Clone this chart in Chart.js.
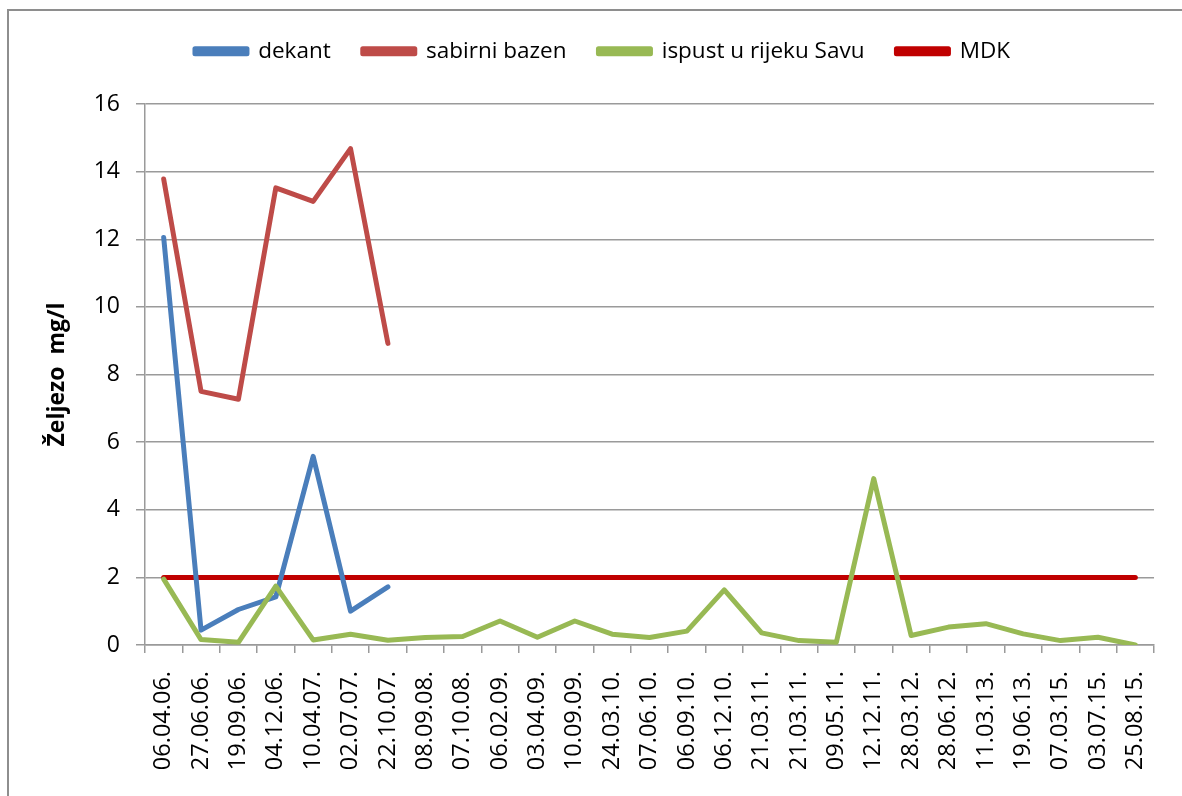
<!DOCTYPE html>
<html>
<head>
<meta charset="utf-8">
<script src="https://cdn.jsdelivr.net/npm/chart.js@4.4.1/dist/chart.umd.min.js"></script>
<style>
  html, body { margin: 0; padding: 0; background: #fff; overflow: hidden; }
  #wrap { position: relative; width: 1182px; height: 796px; }
  #frame {
    position: absolute; left: 7px; top: 9px; width: 1200px; height: 820px;
    border: 2px solid #8e8e8e; box-sizing: border-box;
  }
  canvas { position: absolute; left: 0; top: 0; }
</style>
</head>
<body>
<div id="wrap">
  <div id="frame"></div>
  <canvas id="mainChart" width="1182" height="796"></canvas>
</div>
<script>
// 데이터
const dates = [
  '06.04.06.', '27.06.06.', '19.09.06.', '04.12.06.', '10.04.07.', '02.07.07.',
  '22.10.07.', '08.09.08.', '07.10.08.', '06.02.09.', '03.04.09.', '10.09.09.',
  '24.03.10.', '07.06.10.', '06.09.10.', '06.12.10.', '21.03.11.', '21.03.11.',
  '09.05.11.', '12.12.11.', '28.03.12.', '28.06.12.', '11.03.13.', '19.06.13.',
  '07.03.15.', '03.07.15.', '25.08.15.'
];

const dekant = [12.05, 0.44, 1.05, 1.42, 5.58, 1.0, 1.72];

const sabirniBazen = [13.78, 7.5, 7.27, 13.52, 13.12, 14.68, 8.92];

const ispust = [
  1.95, 0.16, 0.08, 1.74, 0.15, 0.32, 0.14, 0.22, 0.25, 0.71, 0.23, 0.71,
  0.32, 0.22, 0.41, 1.63, 0.36, 0.13, 0.08, 4.92, 0.28, 0.53, 0.63, 0.33,
  0.13, 0.23, 0.0
];

const mdk = [
  2, 2, 2, 2, 2, 2, 2, 2, 2, 2, 2, 2, 2, 2, 2, 2, 2, 2, 2, 2, 2, 2, 2, 2, 2, 2, 2
];

const yTicks = [0, 2, 4, 6, 8, 10, 12, 14, 16];

const FONT = '"Open Sans", "Noto Sans", sans-serif';

// 선 데이터셋 생성 (order: 작을수록 위에 그려짐)
function lineSet(label, data, color, order) {
  return {
    label: label,
    data: data,
    order: order,
    borderColor: color,
    backgroundColor: color,
    borderWidth: 5,
    pointRadius: 0,
    pointHoverRadius: 0,
    tension: 0,
    borderCapStyle: 'round',
    borderJoinStyle: 'round',
    spanGaps: false
  };
}

// 범례 높이 고정 + 가운데 위치 보정
const legendFix = {
  id: 'legendFix',
  afterInit(chart) {
    const lg = chart.legend;
    if (!lg) return;
    const orig = lg.fit.bind(lg);
    lg.fit = function () {
      orig();
      this.height = 96;
    };
  }
};

const ctx = document.getElementById('mainChart').getContext('2d');
new Chart(ctx, {
  type: 'line',
  data: {
    labels: dates,
    datasets: [
      lineSet('dekant', dekant, '#4a7ebb', 1),
      lineSet('sabirni bazen', sabirniBazen, '#be4b48', 2),
      lineSet('ispust u rijeku Savu', ispust, '#98b954', 0),
      lineSet('MDK', mdk, '#c00000', 3)
    ]
  },
  options: {
    responsive: false,
    animation: false,
    layout: {
      padding: { top: 8, right: 25, bottom: 0, left: 48 }
    },
    scales: {
      x: {
        offset: true,
        grid: {
          offset: true,
          drawOnChartArea: false,
          drawTicks: true,
          tickLength: 8,
          color: '#9a9a9a',
          lineWidth: 1.5
        },
        border: { color: '#9a9a9a', width: 1.5 },
        ticks: {
          autoSkip: false,
          maxRotation: 90,
          minRotation: 90,
          padding: 18,
          color: '#000',
          font: { family: FONT, size: 23.5 }
        },
        afterFit(scale) { scale.height = 151; }
      },
      y: {
        min: 0,
        max: 16,
        afterBuildTicks(scale) {
          scale.ticks = yTicks.map(v => ({ value: v }));
        },
        grid: {
          color: '#9a9a9a',
          lineWidth: 1.5,
          tickLength: 9
        },
        border: { color: '#9a9a9a', width: 1.5 },
        ticks: {
          padding: 16,
          color: '#000',
          font: { family: FONT, size: 23 }
        },
        title: {
          display: true,
          text: 'Željezo  mg/l',
          color: '#000',
          font: { family: FONT, size: 23, weight: 'bold' },
          padding: { top: -4, bottom: 0 }
        },
        afterFit(scale) { scale.width = 97; }
      }
    },
    plugins: {
      legend: {
        position: 'top',
        labels: {
          boxWidth: 52,
          boxHeight: 5,
          padding: 32,
          color: '#000',
          font: { family: FONT, size: 22.5 },
          sort: (a, b) => a.datasetIndex - b.datasetIndex
        }
      },
      tooltip: { enabled: false }
    }
  },
  plugins: [legendFix]
});
</script>
</body>
</html>
